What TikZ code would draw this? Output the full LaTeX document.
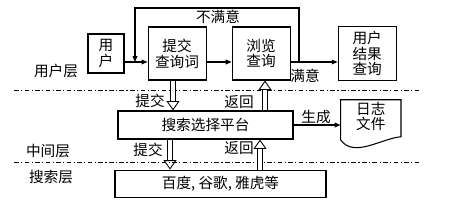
\documentclass[tikz,border=0pt]{standalone}
\usepackage{fontspec}
\setmainfont{Liberation Serif}
\newfontfamily\cjk{Noto Sans CJK SC}
\usetikzlibrary{arrows.meta, positioning, calc}
\tikzstyle{flow} = [line width=0.9pt, -{Triangle[length=5pt, width=4pt]}]

\begin{document}
\begin{tikzpicture}[
	font=\cjk\fontsize{12.5}{13.5}\selectfont,
	module/.style={rectangle, draw=black, line width=0.9pt, minimum width=1.74cm, minimum height=1.59cm, align=center, inner sep=1pt},
	layer/.style={inner sep=0pt},
	tag/.style={inner sep=1pt},
	bigarrow/.style={double, line width=0.75pt, double distance=4pt, -{Triangle[open, length=8pt, width=11pt, line width=0.75pt]}},
	separator/.style={line width=0.75pt, dash pattern=on 4pt off 2pt on 1pt off 2pt}
]
\useasboundingbox (0,0) rectangle (13.68,6.06);

% User layer
\node[module, minimum width=1.08cm, minimum height=1.17cm] (user) at (3.18,4.455) {用\\户};
\node[module, right=0.69cm of user] (query) {提交\\查询词};
\node[module, right=0.75cm of query] (browse) {浏览\\查询};
\node[module, right=1.41cm of browse, minimum height=1.62cm] (result) {用户\\结果\\查询};

% Middle and search layers
\node[module, minimum width=5.25cm, minimum height=0.84cm] (platform) at (6.165,2.31) {搜索选择平台};
\node[module, below=0.9cm of platform, xshift=0.45cm, minimum width=6.33cm, minimum height=0.81cm] (engine) {百度, 谷歌, 雅虎等};
\node[inner sep=0pt, minimum width=1.8cm, minimum height=0.99cm, align=center, right=1.41cm of platform, yshift=0.255cm] (log) {日志\\文件};
\draw[line width=0.9pt] (log.north west) -- (log.north east) -- ++(0,-1.11)
	.. controls +(-0.6,-0.05) and +(0.4,-0.56) .. ($(log.north west)+(0,-1.2)$) -- cycle;

% Layer names
\node[layer] (ulayer) at (1.68,3.93) {用户层};
\node[layer] (mlayer) at (1.44,1.53) {中间层};
\node[layer] (slayer) at (1.53,0.75) {搜索层};

% Separators
\coordinate (sepAl) at (0.42,3.36);
\coordinate (sepAr) at (12.6,3.36);
\coordinate (sepBl) at (0.42,1.2);
\coordinate (sepBr) at (12.6,1.2);
\draw[separator] (sepAl) -- (sepAr);
\draw[separator] (sepBl) -- (sepBr);

% Query flow
\coordinate (line) at (0,4.2);
\coordinate (fb) at (8.97,4.2);
\coordinate (fbin) at (4.05,4.2);
\draw[flow] (user.east |- line) -- (query.west |- line);
\draw[flow] (query.east |- line) -- (browse.west |- line);
\draw[flow] (browse.east |- line) -- (result.west |- line);
\draw[flow] (fb) -- ++(0,1.62) -| (fbin);
\node[tag] (unsat) at (6.54,5.55) {不满意};
\node[tag] (sat) at (9.15,3.78) {满意};

% Submit / return between layers
\draw[bigarrow] (query.south -| 5.19,0) -- (platform.north -| 5.19,0);
\draw[bigarrow] (platform.north -| 7.95,0) -- (browse.south -| 7.95,0);
\draw[bigarrow] (platform.south -| 5.1,0) -- (engine.north -| 5.1,0);
\draw[bigarrow] (engine.north -| 7.8,0) -- (platform.south -| 7.8,0);
\node[tag] (subA) at (4.5,3.03) {提交};
\node[tag] (retA) at (7.17,3.0) {返回};
\node[tag] (subB) at (4.44,1.56) {提交};
\node[tag] (retB) at (7.17,1.62) {返回};

% Log output
\draw[flow] (platform.east) -- (log.west |- platform.east);
\node[tag] (gen) at (9.48,2.55) {生成};

\end{tikzpicture}
\end{document}
